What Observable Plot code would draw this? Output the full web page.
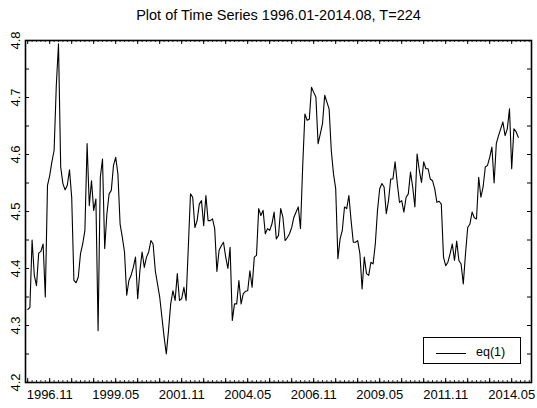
<!DOCTYPE html>
<html><head><meta charset="utf-8">
<script src="https://cdn.jsdelivr.net/npm/d3@7"></script>
<script src="https://cdn.jsdelivr.net/npm/@observablehq/plot@0.6"></script>
<style>
body{margin:0;background:#fff;}
#wrap{position:relative;width:537px;height:408px;}
#legend{position:absolute;left:423px;top:337px;width:96px;height:25px;border:1px solid #000;background:#fff;font:12px "Liberation Sans",Arial,sans-serif;}
#legend svg{position:absolute;left:0;top:0;}
</style></head><body><div id="wrap"></div>
<script>
const title = "Plot of Time Series 1996.01-2014.08, T=224";
const seriesName = "eq(1)";
const values = [
4.328,4.332,4.450,4.388,4.370,4.427,4.430,4.443,4.350,4.546,
4.563,4.587,4.607,4.721,4.794,4.578,4.549,4.538,4.546,4.573,
4.525,4.379,4.375,4.385,4.426,4.443,4.467,4.619,4.510,4.554,
4.502,4.522,4.291,4.560,4.592,4.435,4.496,4.531,4.537,4.581,
4.595,4.566,4.478,4.455,4.429,4.353,4.379,4.388,4.402,4.420,
4.347,4.396,4.429,4.402,4.420,4.429,4.449,4.443,4.396,4.373,
4.350,4.315,4.280,4.250,4.291,4.338,4.361,4.344,4.391,4.344,
4.347,4.367,4.344,4.437,4.531,4.525,4.472,4.484,4.513,4.519,
4.475,4.528,4.484,4.484,4.487,4.470,4.395,4.432,4.440,4.446,
4.420,4.400,4.437,4.309,4.338,4.338,4.379,4.338,4.356,4.360,
4.361,4.396,4.367,4.420,4.423,4.505,4.493,4.502,4.461,4.470,
4.467,4.478,4.499,4.452,4.458,4.505,4.490,4.449,4.454,4.461,
4.472,4.490,4.499,4.508,4.470,4.580,4.671,4.660,4.662,4.718,
4.709,4.701,4.619,4.636,4.654,4.704,4.692,4.680,4.607,4.566,
4.540,4.417,4.452,4.467,4.508,4.505,4.528,4.484,4.446,4.446,
4.449,4.426,4.364,4.420,4.391,4.388,4.411,4.408,4.443,4.502,
4.540,4.549,4.543,4.496,4.519,4.557,4.557,4.587,4.549,4.516,
4.519,4.499,4.525,4.531,4.569,4.543,4.508,4.601,4.572,4.551,
4.587,4.575,4.575,4.557,4.554,4.540,4.516,4.518,4.513,4.420,
4.405,4.411,4.426,4.443,4.414,4.448,4.414,4.408,4.373,4.426,
4.472,4.478,4.499,4.489,4.487,4.560,4.525,4.543,4.578,4.581,
4.595,4.613,4.550,4.619,4.633,4.645,4.657,4.633,4.645,4.680,
4.575,4.645,4.640,4.630
];
const xTickPos = [11, 41, 71, 101, 131, 161, 191, 221];
const xTickLabels = ["1996.11","1999.05","2001.11","2004.05","2006.11","2009.05","2011.11","2014.05"];
const yTickLabels = [4.2, 4.3, 4.4, 4.5, 4.6, 4.7, 4.8];
const yMinorTicks = [4.25,4.3,4.35,4.4,4.45,4.5,4.55,4.6,4.65,4.7,4.75];
const xMajorTicks = d3.range(1, 230, 10);
const xMinorTicks = d3.range(1, 230, 2);

const font = '"Liberation Sans", Arial, sans-serif';
const W = 537, H = 408, mt = 40, mb = 26, ml = 25, mr = 6;
const fh = H - mt - mb, fw = W - ml - mr;

const chart = Plot.plot({
  width: W, height: H,
  marginTop: mt, marginBottom: mb, marginLeft: ml, marginRight: mr,
  style: {fontFamily: font, background: "#fff", color: "#000"},
  x: {domain: [0, 230], axis: null},
  y: {domain: [4.2, 4.8], axis: null},
  marks: [
    Plot.tickX(xMinorTicks, {x: d => d, insetTop: fh - 2, stroke: "#000", strokeWidth: 0.8}),
    Plot.tickX(xMinorTicks, {x: d => d, insetBottom: fh - 2, stroke: "#000", strokeWidth: 0.8}),
    Plot.tickX(xMajorTicks, {x: d => d, insetTop: fh - 4, stroke: "#000", strokeWidth: 1}),
    Plot.tickX(xMajorTicks, {x: d => d, insetBottom: fh - 4, stroke: "#000", strokeWidth: 1}),
    Plot.tickY(yMinorTicks, {y: d => d, insetRight: fw - 4, stroke: "#000", strokeWidth: 1}),
    Plot.tickY(yMinorTicks, {y: d => d, insetLeft: fw - 4, stroke: "#000", strokeWidth: 1}),
    Plot.lineY(values, {x: (d, i) => i + 1, y: d => d, stroke: "#000", strokeWidth: 1.1}),
    Plot.frame({stroke: "#000", strokeWidth: 1.6}),
    Plot.text(xTickPos, {x: d => d, text: (d, i) => xTickLabels[i], frameAnchor: "bottom", dy: 12, lineAnchor: "middle", fontSize: 13, fill: "#000"}),
    Plot.text(yTickLabels, {y: d => d, text: d => d.toFixed(1), frameAnchor: "left", dx: -10, rotate: -90, textAnchor: "middle", lineAnchor: "middle", fontSize: 13, fill: "#000"}),
    Plot.text([title], {frameAnchor: "top", dy: -25, lineAnchor: "middle", fontSize: 14.5, fill: "#000", style: {letterSpacing: "1.2px"}})
  ]
});
const wrap = document.getElementById("wrap");
wrap.appendChild(chart);

const leg = document.createElement("div");
leg.id = "legend";
leg.innerHTML = `<svg width="96" height="25"><line x1="12" x2="42" y1="15.5" y2="15.5" stroke="#000" stroke-width="1"/><text x="52" y="15" dominant-baseline="middle" font-size="12.5" font-family='Liberation Sans, Arial, sans-serif'>${seriesName}</text></svg>`;
wrap.appendChild(leg);
</script>
</body></html>
